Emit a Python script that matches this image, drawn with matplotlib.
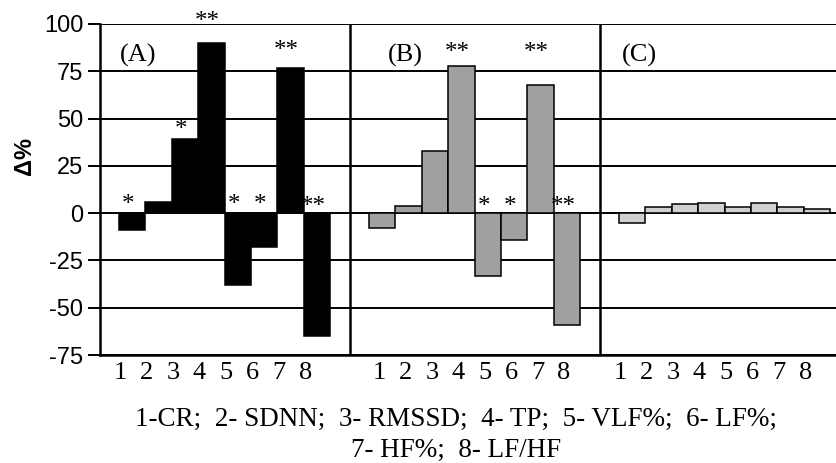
import numpy as np
import matplotlib
matplotlib.use("Agg")
import matplotlib.pyplot as plt

plt.rcParams["axes.unicode_minus"] = False

# change (%) of each index, panels A, B, C
panels = ["(A)", "(B)", "(C)"]
vals_a = [-9, 6, 39, 90, -38, -18, 77, -65]
vals_b = [-8, 4, 33, 78, -33, -14, 68, -59]
vals_c = [-5, 3, 5, 5.5, 3, 5.5, 3, 2]
stars_a = ["*", "", "*", "**", "*", "*", "**", "**"]
stars_b = ["", "", "", "**", "*", "*", "**", "**"]
stars_c = ["", "", "", "", "", "", "", ""]
star_y_a = [7, 0, 46.5, 103.5, 7, 7, 88, 6]
star_y_b = [0, 0, 0, 87, 6, 6, 87, 6]
star_y_c = [0] * 8
xlabels = ["1", "2", "3", "4", "5", "6", "7", "8"]
caption = "1-CR;  2- SDNN;  3- RMSSD;  4- TP;  5- VLF%;  6- LF%;\n7- HF%;  8- LF/HF"

colors = ["black", "#a0a0a0", "#d0d0d0"]

serif = "Liberation Serif"
sans = "Liberation Sans"

fig = plt.figure(figsize=(8.37, 4.63), dpi=100)
ax = fig.add_axes([100 / 837, 108 / 463, 737 / 837, 331 / 463])

P = 9.47      # panel width in bar units
off = 0.72    # gap before first bar
lab_shift = [-0.45, -0.12, -0.45]
tag_off = [0.76, 1.44, 0.83]

allvals = [vals_a, vals_b, vals_c]
allstars = [stars_a, stars_b, stars_c]
allstary = [star_y_a, star_y_b, star_y_c]

ticks = []
for k in range(3):
    x = k * P + off + 0.5 + np.arange(8)
    ax.bar(x, allvals[k], width=1.0, color=colors[k], edgecolor="black",
           linewidth=1.1, zorder=3)
    for xi, s, sy in zip(x, allstars[k], allstary[k]):
        if s:
            # glyph sits high in its box, pull the anchor down a bit
            ax.text(xi - 0.15, sy - 2.5, s, ha="center", va="center", fontsize=18,
                    family=serif, zorder=4)
    ticks += list(x + lab_shift[k])
    ax.text(k * P + tag_off[k], 83.5, panels[k], ha="left", va="center",
            fontsize=19, family=serif)
    if k > 0:
        ax.axvline(k * P, color="black", lw=1.8, zorder=2)

ax.set_xlim(0, 737 / 26.4)
ax.set_ylim(-75, 100)
ax.set_yticks([-75, -50, -25, 0, 25, 50, 75, 100])
ax.set_xticks(ticks)
ax.set_xticklabels(xlabels * 3, family=serif, fontsize=19)
ax.tick_params(axis="x", length=0, pad=5)
ax.tick_params(axis="y", length=9, width=1.4, labelsize=17, pad=3)
for t in ax.get_yticklabels():
    t.set_family(sans)
ax.yaxis.grid(True, color="black", lw=1.4, zorder=1)
ax.set_axisbelow(True)
ax.spines["right"].set_visible(False)
ax.spines["top"].set_visible(False)
ax.spines["left"].set_linewidth(1.8)
ax.spines["bottom"].set_linewidth(1.8)

fig.text(25 / 837, 1 - 156 / 463, "Δ%", rotation=90, ha="center", va="center",
         fontsize=17, fontweight="bold", family=sans)

fig.text(456 / 837, 1 - 435 / 463, caption, ha="center", va="center",
         fontsize=19.5, family=serif, linespacing=1.32)

fig.savefig("out.png", dpi=100)
